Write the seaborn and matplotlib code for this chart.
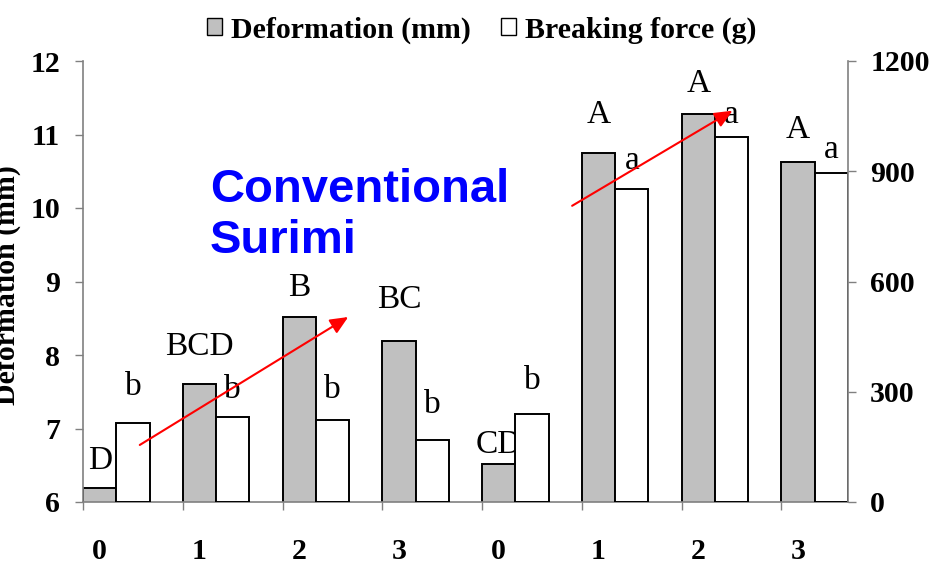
import numpy as np
import pandas as pd
import matplotlib
matplotlib.use("Agg")
import matplotlib.pyplot as plt
from matplotlib.patches import Patch
import seaborn as sns

# ---------------- data ----------------
groups = ["0", "1", "2", "3", "0", "1", "2", "3"]
deformation = [6.19, 7.61, 8.52, 8.19, 6.52, 10.75, 11.28, 10.62]
breaking_force = [214, 232, 223, 170, 239, 853, 994, 894]
def_letters = ["D", "BCD", "B", "BC", "CD", "A", "A", "A"]
bf_letters = ["b", "b", "b", "b", "b", "a", "a", "a"]
series_names = ["Deformation (mm)", "Breaking force (g)"]
yticks_left = [6, 7, 8, 9, 10, 11, 12]
yticks_right = [0, 300, 600, 900, 1200]
annotation_text = "Conventional\nSurimi"

# ---------------- layout / style ----------------
def_offsets_px = [19, 29, 21, 33, 11, 30, 22, 24]
bf_offsets_px = [28, 19, 22, 27, 25, 20, 14, 15]
arrows = [((0.569, 6.776), (2.658, 8.517)), ((4.902, 10.03), (6.509, 11.324))]
GRAY = "#C0C0C0"
AXIS_GRAY = "#808080"

sns.set_style("white")
plt.rcParams["font.family"] = ["Liberation Serif", "DejaVu Serif"]
plt.rcParams["font.weight"] = "bold"
plt.rcParams["text.color"] = "black"
plt.rcParams["axes.labelcolor"] = "black"
plt.rcParams["xtick.color"] = "black"
plt.rcParams["ytick.color"] = "black"

fig = plt.figure(figsize=(9.38, 5.67), dpi=100)
W, H = 938, 567
ax = fig.add_axes([83 / W, 1 - 502 / H, (848 - 83) / W, (502 - 61) / H])
ax2 = ax.twinx()

n = len(groups)
idx = np.arange(n)
df_def = pd.DataFrame({"pos": idx + 1 / 6, "value": deformation})
df_bf = pd.DataFrame({"pos": idx + 0.5, "value": breaking_force})

sns.barplot(data=df_def, x="pos", y="value", native_scale=True, width=1 / 3,
            color=GRAY, saturation=1, edgecolor="black", linewidth=1.4,
            errorbar=None, orient="x", ax=ax)
sns.barplot(data=df_bf, x="pos", y="value", native_scale=True, width=1 / 3,
            color="white", saturation=1, edgecolor="black", linewidth=1.4,
            errorbar=None, orient="x", ax=ax2)

ax.set_xlim(0, n - 1 + 2 / 3)
ax.set_ylim(6, 12)
ax2.set_ylim(0, 1200)
ax.set_xlabel("")
ax.set_ylabel("")
ax2.set_xlabel("")
ax2.set_ylabel("")

# x ticks: marks at category boundaries, labels under gray bars
ax.set_xticks(idx)
ax.set_xticklabels([""] * n)
ax.set_xticks(idx + 1 / 6, minor=True)
ax.set_xticklabels(groups, minor=True, fontsize=21.5, fontweight="bold", color="black")
ax.tick_params(axis="x", which="major", length=6, width=1, color=AXIS_GRAY,
               direction="out", bottom=True)
ax.tick_params(axis="x", which="minor", length=0, pad=26, bottom=True, labelcolor="black")

ax.set_yticks(yticks_left)
ax.set_yticklabels([str(v) for v in yticks_left], fontsize=21.5, fontweight="bold")
ax.tick_params(axis="y", length=6, width=1, color=AXIS_GRAY, direction="out",
               pad=10.5, left=True, labelcolor="black")
ax2.set_yticks(yticks_right)
ax2.set_yticklabels([str(v) for v in yticks_right], fontsize=21.5, fontweight="bold")
ax2.tick_params(axis="y", length=6, width=1, color=AXIS_GRAY, direction="out",
                pad=10, right=True, labelcolor="black")

for s in ["top", "right"]:
    ax.spines[s].set_visible(False)
for s in ["left", "bottom"]:
    ax.spines[s].set_color(AXIS_GRAY)
    ax.spines[s].set_linewidth(1.2)
for s in ["top", "left", "bottom"]:
    ax2.spines[s].set_visible(False)
ax2.spines["right"].set_color(AXIS_GRAY)
ax2.spines["right"].set_linewidth(1.2)

# significance letters
for i in range(n):
    ax.annotate(def_letters[i], xy=(i + 1 / 6, deformation[i]),
                xytext=(0, def_offsets_px[i]), textcoords="offset pixels",
                ha="center", va="baseline", fontsize=24, fontweight="normal",
                color="black", annotation_clip=False)
    ax2.annotate(bf_letters[i], xy=(i + 0.5, breaking_force[i]),
                 xytext=(0, bf_offsets_px[i]), textcoords="offset pixels",
                 ha="center", va="baseline", fontsize=24, fontweight="normal",
                 color="black", annotation_clip=False)

# red trend arrows (coordinates in left-axis data units)
for (x0, y0), (x1, y1) in arrows:
    ax2.annotate("", xy=(x1, y1), xytext=(x0, y0),
                 xycoords=ax.transData, textcoords=ax.transData,
                 arrowprops=dict(arrowstyle="-|>,head_length=0.72,head_width=0.32",
                                 color="#FF0000", lw=1.5, mutation_scale=15,
                                 shrinkA=0, shrinkB=0))

# blue annotation
fig.text(210 / W, 1 - 253 / H, annotation_text, color="#0000FF",
         fontsize=34, fontweight="bold", family=["Liberation Sans", "DejaVu Sans"],
         ha="left", va="baseline", linespacing=1.2)

# y label (partially cut at the left edge, as in the reference)
fig.text(21 / W, 1 - 285 / H, series_names[0], rotation=90, fontsize=21.5,
         fontweight="bold", ha="right", va="center", color="black")

# legend
handles = [Patch(facecolor=GRAY, edgecolor="black", lw=1.0),
           Patch(facecolor="white", edgecolor="black", lw=1.0)]
leg = fig.legend(handles, series_names, loc="center", bbox_to_anchor=(482 / W, 1 - 30 / H),
                 ncol=2, frameon=False, prop={"size": 21.5, "weight": "bold"},
                 handlelength=0.5, handleheight=0.5, handletextpad=0.3,
                 columnspacing=1.0, borderaxespad=0, borderpad=0)
for t in leg.get_texts():
    t.set_color("black")

fig.savefig("out.png", dpi=100)
